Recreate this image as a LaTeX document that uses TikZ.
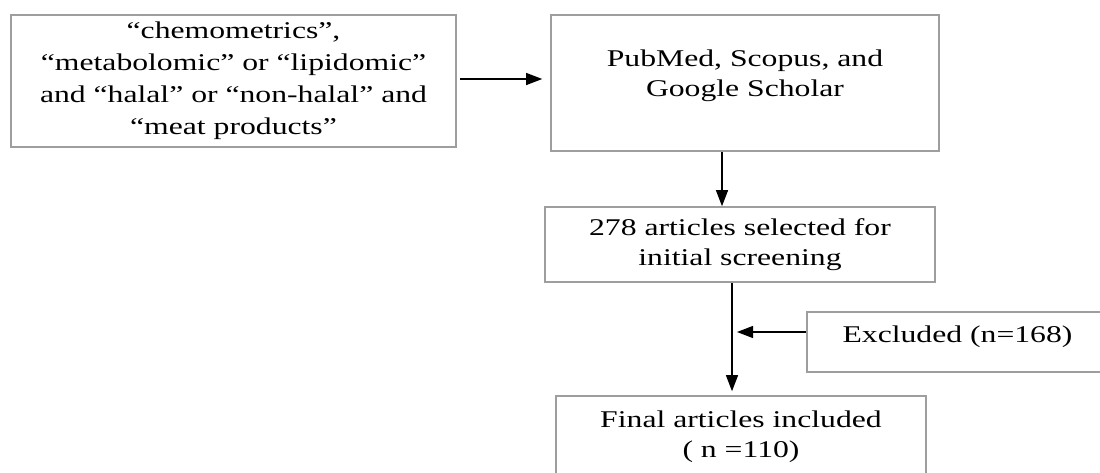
\documentclass[tikz,border=0pt]{standalone}
\usepackage{fontspec}
\setmainfont{Liberation Serif}[FakeStretch=1.32]
\usetikzlibrary{arrows.meta, positioning}
\definecolor{boxgray}{gray}{0.62}

\begin{document}
\begin{tikzpicture}[
    x=1pt, y=-1pt, % pixel-like coordinates, y downwards
    box/.style={rectangle, draw=boxgray, line width=1.6pt, align=center, inner sep=0pt, font=\fontsize{24}{30}\selectfont},
    arrow/.style={-{Triangle[length=16pt, width=12pt]}, line width=1.1pt}
]
\useasboundingbox (0,0) rectangle (1100,472);

% Search terms and databases
\node (terms) at (233.5,81) [box, minimum width=445pt, minimum height=132pt, font=\fontsize{24}{32}\selectfont]
    {“chemometrics”,\\“metabolomic” or “lipidomic”\\and “halal” or “non-halal” and\\“meat products”};
\node (databases) at (745,83) [box, minimum width=388pt, minimum height=136pt, text depth=20pt] {PubMed, Scopus, and\\Google Scholar};

% Screening steps
\node (screening) at (740,244.5) [box, minimum width=390pt, minimum height=75pt] {278 articles selected for\\initial screening};
\node (excluded) at (957.5,342) [box, minimum width=301pt, minimum height=60pt, text depth=16pt] {Excluded (n=168)};
\node (final) at (741,437) [box, minimum width=370pt, minimum height=82pt] {Final articles included\\( n =110)};

% Connections
\draw [arrow, shorten <=3pt, shorten >=8pt] ([yshift=2pt]terms.east) -- ([yshift=2pt]terms.east -| databases.west);
\draw [arrow] ([xshift=-23pt]databases.south) -- ([xshift=-23pt]databases.south |- screening.north);
\draw [arrow, shorten >=4pt] ([xshift=-8pt]screening.south) -- ([xshift=-8pt]screening.south |- final.north);
\coordinate (join) at ([xshift=-8pt]screening.south |- excluded.west);
\draw [arrow, shorten >=5pt] ([yshift=10pt]excluded.west) -- ([yshift=10pt]join);

\end{tikzpicture}
\end{document}
